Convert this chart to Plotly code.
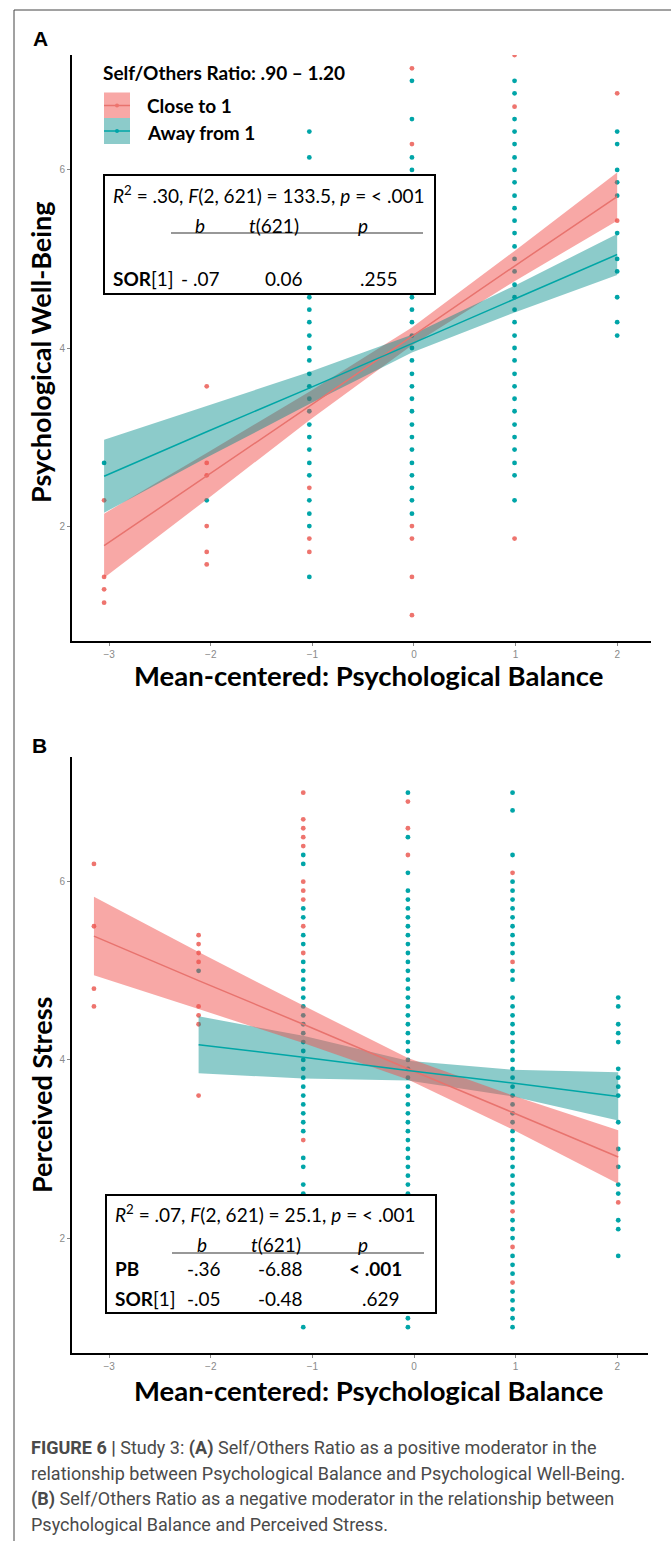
import plotly.graph_objects as go

W, H = 671, 1541

# ---------------- DATA ----------------
# Panel A: Psychological Well-Being vs mean-centered Psychological Balance
a_cols = [-3.05, -2.04, -1.03, -0.02, 0.99, 2.00]
a_close_y = [
    [2.29, 1.43, 1.29, 1.14],
    [3.57, 2.71, 2.57, 2.00, 1.71, 1.57],
    [2.43, 1.86, 1.71],
    [7.14, 6.29, 2.00, 1.86, 1.43, 1.00],
    [7.29, 6.71, 1.86],
    [6.86, 5.43],
]
a_away_y = [
    [2.71],
    [2.29],
    [6.43, 6.14, 4.57, 4.43, 4.29, 4.14, 4.00, 3.86, 3.71, 3.57, 3.43, 3.29, 3.14,
     3.00, 2.86, 2.71, 2.57, 2.29, 2.14, 2.00, 1.43],
    [7.00, 6.57, 6.14, 6.00, 4.57, 4.43, 4.29, 4.14, 4.00, 3.86, 3.71, 3.57, 3.43,
     3.29, 3.14, 3.00, 2.86, 2.71, 2.57, 2.43, 2.29, 2.14],
    [7.00, 6.86, 6.57, 6.43, 6.29, 6.14, 6.00, 5.86, 5.71, 5.57, 5.43, 5.29, 5.14,
     5.00, 4.86, 4.71, 4.57, 4.43, 4.29, 4.14, 4.00, 3.86, 3.71, 3.57, 3.43, 3.29,
     3.14, 3.00, 2.86, 2.71, 2.57, 2.29],
    [6.43, 6.29, 6.00, 5.86, 5.71, 5.29, 5.00, 4.86, 4.57, 4.29, 4.14],
]
a_fit_x = [-3.05, -2.04, -1.03, -0.02, 0.99, 2.00]
a_close_fit = [1.78, 2.56, 3.35, 4.13, 4.92, 5.70]
a_close_lo = [1.42, 2.30, 3.19, 4.03, 4.75, 5.43]
a_close_hi = [2.14, 2.82, 3.51, 4.23, 5.09, 5.97]
a_away_fit = [2.56, 3.06, 3.55, 4.05, 4.55, 5.05]
a_away_lo = [2.15, 2.77, 3.37, 3.95, 4.40, 4.82]
a_away_hi = [2.97, 3.35, 3.73, 4.15, 4.70, 5.28]

# Panel B: Perceived Stress vs mean-centered Psychological Balance
b_cols = [-3.15, -2.12, -1.09, -0.06, 0.97, 2.01]
b_close_y = [
    [6.2, 5.5, 4.8, 4.6],
    [5.4, 5.3, 5.2, 5.1, 4.6, 4.5, 4.4, 3.6],
    [7.0, 6.7, 6.6, 6.5, 6.4, 6.0, 5.9, 5.8, 5.5, 5.2, 3.1],
    [6.9, 6.6, 6.3],
    [6.1, 5.1, 2.3, 1.9, 1.5],
    [2.4],
]
b_away_y = [
    [],
    [5.0],
    [6.3, 6.2, 5.7, 5.6, 5.4, 5.3, 5.1, 5.0, 4.9, 4.8, 4.7, 4.6, 4.5, 4.4, 4.3, 4.2,
     4.1, 4.0, 3.9, 3.8, 3.7, 3.6, 3.5, 3.4, 3.3, 3.2, 2.9, 2.8, 2.6, 2.5, 1.0],
    [7.0, 6.5, 6.1, 5.9, 5.8, 5.7, 5.6, 5.5, 5.4, 5.3, 5.2, 5.1, 5.0, 4.9, 4.8, 4.7,
     4.6, 4.5, 4.4, 4.3, 4.2, 4.1, 4.0, 3.9, 3.8, 3.7, 3.6, 3.5, 3.4, 3.3, 3.2, 3.1,
     3.0, 2.9, 2.8, 2.7, 2.6, 2.5, 1.1, 1.0],
    [7.0, 6.8, 6.3, 6.0, 5.9, 5.8, 5.7, 5.6, 5.5, 5.4, 5.3, 5.2, 5.0, 4.9, 4.7, 4.6,
     4.5, 4.4, 4.3, 4.2, 4.1, 4.0, 3.9, 3.8, 3.7, 3.6, 3.5, 3.4, 3.3, 3.2, 3.1, 3.0,
     2.9, 2.8, 2.7, 2.6, 2.5, 2.4, 2.2, 2.1, 2.0, 1.8, 1.7, 1.6, 1.4, 1.3, 1.2, 1.1, 1.0],
    [4.7, 4.6, 4.4, 4.3, 4.2, 3.9, 3.8, 3.7, 3.6, 3.3, 3.0, 2.8, 2.6, 2.5, 2.2, 2.1, 1.8],
]
b_close_fit_x = [-3.15, -2.12, -1.09, -0.06, 0.97, 2.01]
b_close_fit = [5.39, 4.89, 4.40, 3.90, 3.41, 2.91]
b_close_lo = [4.95, 4.57, 4.19, 3.78, 3.22, 2.61]
b_close_hi = [5.83, 5.21, 4.61, 4.02, 3.60, 3.21]
b_away_fit_x = [-2.12, -1.09, -0.06, 0.97, 2.01]
b_away_fit = [4.17, 4.03, 3.88, 3.74, 3.59]
b_away_lo = [3.85, 3.79, 3.77, 3.59, 3.32]
b_away_hi = [4.49, 4.27, 3.99, 3.89, 3.86]

x_ticks = [-3, -2, -1, 0, 1, 2]
y_ticks = [2, 4, 6]
group_names = ["Close to 1", "Away from 1"]

# ---------------- STYLE ----------------
RED_PT = "#EE746E"
TEAL_PT = "#00A5A8"
RED_LINE = "#E8736E"
TEAL_LINE = "#00A6A6"
RED_FILL = "rgba(242,82,78,0.5)"
TEAL_FILL = "rgba(0,140,138,0.45)"
TITLE_FONT = "Lato"
BOX_FS = 19


def px(x):
    return x / W


def py(y):
    return 1 - y / H


fig = go.Figure()


def add_points(cols, groups, color, xa, ya):
    xs, ys = [], []
    for cx, vals in zip(cols, groups):
        xs += [cx] * len(vals)
        ys += vals
    fig.add_trace(go.Scatter(x=xs, y=ys, mode="markers", xaxis=xa, yaxis=ya,
                             marker=dict(size=4.8, color=color), showlegend=False,
                             hoverinfo="skip"))


def add_band(xs, lo, hi, fill, xa, ya):
    fig.add_trace(go.Scatter(x=list(xs) + list(xs)[::-1], y=list(hi) + list(lo)[::-1],
                             mode="lines", fill="toself", fillcolor=fill,
                             line=dict(width=0), xaxis=xa, yaxis=ya,
                             showlegend=False, hoverinfo="skip"))


def add_line(xs, ys, color, xa, ya):
    fig.add_trace(go.Scatter(x=xs, y=ys, mode="lines", line=dict(color=color, width=1.5),
                             xaxis=xa, yaxis=ya, showlegend=False, hoverinfo="skip"))


# Panel A
add_points(a_cols, a_close_y, RED_PT, "x", "y")
add_points(a_cols, a_away_y, TEAL_PT, "x", "y")
add_band(a_fit_x, a_close_lo, a_close_hi, RED_FILL, "x", "y")
add_band(a_fit_x, a_away_lo, a_away_hi, TEAL_FILL, "x", "y")
add_line(a_fit_x, a_close_fit, RED_LINE, "x", "y")
add_line(a_fit_x, a_away_fit, TEAL_LINE, "x", "y")

# Panel B
add_points(b_cols, b_close_y, RED_PT, "x2", "y2")
add_points(b_cols, b_away_y, TEAL_PT, "x2", "y2")
add_band(b_away_fit_x, b_away_lo, b_away_hi, TEAL_FILL, "x2", "y2")
add_band(b_close_fit_x, b_close_lo, b_close_hi, RED_FILL, "x2", "y2")
add_line(b_close_fit_x, b_close_fit, RED_LINE, "x2", "y2")
add_line(b_away_fit_x, b_away_fit, TEAL_LINE, "x2", "y2")

axis_common = dict(showgrid=False, zeroline=False, showline=True, linecolor="black",
                   linewidth=2, ticks="outside", ticklen=3, tickwidth=1,
                   tickcolor="#888888", mirror=False,
                   tickfont=dict(family="Liberation Sans", size=10, color="#8a8a8a"))

fig.update_layout(
    width=W, height=H, autosize=False,
    margin=dict(l=0, r=0, t=0, b=0),
    paper_bgcolor="white", plot_bgcolor="white",
    showlegend=False,
    xaxis=dict(domain=[px(72), px(651)], range=[-3.366, 2.333], tickvals=x_ticks,
               anchor="y", **axis_common),
    yaxis=dict(domain=[py(641), py(55)], range=[0.71, 7.29], tickvals=y_ticks,
               anchor="x", **axis_common),
    xaxis2=dict(domain=[px(72), px(648)], range=[-3.366, 2.303], tickvals=x_ticks,
                anchor="y2", **axis_common),
    yaxis2=dict(domain=[py(1353), py(757)], range=[0.71, 7.40], tickvals=y_ticks,
                anchor="x2", **axis_common),
)

shapes = []
anns = []


def text(x, y, t, size=BOX_FS, bold=False, anchor="left", family=TITLE_FONT,
         color="black", angle=0):
    if bold:
        t = "<b>" + t + "</b>"
    anns.append(dict(x=px(x), y=py(y), xref="paper", yref="paper", text=t,
                     showarrow=False, xanchor=anchor, yanchor="middle",
                     textangle=angle, borderpad=0,
                     font=dict(family=family, size=size, color=color)))


def hline(x0, x1, y, color="black", width=1):
    shapes.append(dict(type="line", xref="paper", yref="paper", x0=px(x0), x1=px(x1),
                       y0=py(y), y1=py(y), line=dict(color=color, width=width),
                       layer="above"))


def rect(x0, y0, x1, y1, fill, lw=0, lc="black"):
    shapes.append(dict(type="rect", xref="paper", yref="paper", x0=px(x0), x1=px(x1),
                       y0=py(y1), y1=py(y0), fillcolor=fill,
                       line=dict(color=lc, width=lw), layer="above"))


# Page frame
shapes.append(dict(type="line", xref="paper", yref="paper", x0=px(14), x1=px(14),
                   y0=py(10), y1=0, line=dict(color="#444", width=1)))
shapes.append(dict(type="line", xref="paper", yref="paper", x0=px(14), x1=1,
                   y0=py(10), y1=py(10), line=dict(color="#444", width=1)))

# Panel letters
text(40, 38, "A", size=21, bold=True, anchor="center", family="Liberation Sans")
text(39, 746, "B", size=21, bold=True, anchor="center", family="Liberation Sans")

# Axis titles
text(368, 676, "Mean-centered: Psychological Balance", size=27.5, bold=True, anchor="center")
text(41, 352, "Psychological Well-Being", size=27, bold=True, anchor="center", angle=-90)
text(368, 1390, "Mean-centered: Psychological Balance", size=27.5, bold=True, anchor="center")
text(41, 1095, "Perceived Stress", size=27, bold=True, anchor="center", angle=-90)

# Legend (panel A)
text(102, 72, "Self/Others Ratio: .90 – 1.20", size=19, bold=True)
rect(104, 92.5, 130, 118, "rgba(242,82,78,0.5)")
rect(104, 118, 130, 144, "rgba(0,140,138,0.45)")
hline(104, 130, 105.5, color=RED_LINE, width=1.5)
hline(104, 130, 131, color=TEAL_LINE, width=1.5)
shapes.append(dict(type="circle", xref="paper", yref="paper", x0=px(115), x1=px(119),
                   y0=py(107.5), y1=py(103.5), fillcolor=RED_PT,
                   line=dict(width=0), layer="above"))
shapes.append(dict(type="circle", xref="paper", yref="paper", x0=px(115), x1=px(119),
                   y0=py(133), y1=py(129), fillcolor=TEAL_PT,
                   line=dict(width=0), layer="above"))
text(146, 106, group_names[0], size=19, bold=True)
text(146, 132, group_names[1], size=19, bold=True)

# Stats box A
rect(104, 175, 435, 294, "white", lw=2)
text(112, 194, "<i>R</i><sup>2</sup> = .30, <i>F</i>(2, 621) = 133.5, <i>p</i> = &lt; .001")
text(200, 225, "<i>b</i>", anchor="center")
text(274, 225, "<i>t</i>(621)", anchor="center")
text(363, 225, "<i>p</i>", anchor="center")
hline(171, 423, 233, color="#333", width=1.2)
text(112, 279, "<b>SOR</b>[1]")
text(200, 279, "- .07", anchor="center")
text(284, 279, "0.06", anchor="center")
text(379, 279, ".255", anchor="center")

# Stats box B
rect(106, 1195, 436, 1313, "white", lw=2)
text(114, 1213, "<i>R</i><sup>2</sup> = .07, <i>F</i>(2, 621) = 25.1, <i>p</i> = &lt; .001")
text(202, 1244, "<i>b</i>", anchor="center")
text(276, 1244, "<i>t</i>(621)", anchor="center")
text(363, 1244, "<i>p</i>", anchor="center")
hline(172, 424, 1253, color="#333", width=1.2)
text(114, 1268, "<b>PB</b>")
text(204, 1268, "-.36", anchor="center")
text(280, 1268, "-6.88", anchor="center")
text(375, 1268, "<b>&lt; .001</b>", anchor="center")
text(114, 1298, "<b>SOR</b>[1]")
text(204, 1298, "-.05", anchor="center")
text(280, 1298, "-0.48", anchor="center")
text(381, 1298, ".629", anchor="center")

# Caption
cap_color = "#4a4a4a"
caption_lines = [
    "<b>FIGURE 6 |</b> Study 3: <b>(A)</b> Self/Others Ratio as a positive moderator in the",
    "relationship between Psychological Balance and Psychological Well-Being.",
    "<b>(B)</b> Self/Others Ratio as a negative moderator in the relationship between",
    "Psychological Balance and Perceived Stress.",
]
for i, line in enumerate(caption_lines):
    text(30, 1448 + i * 25.5, line, size=18, family="Roboto", color=cap_color)

fig.update_layout(shapes=shapes, annotations=anns)
fig.write_html("out.html", config={"displayModeBar": False},
               post_script="document.body.style.margin='0px';")
